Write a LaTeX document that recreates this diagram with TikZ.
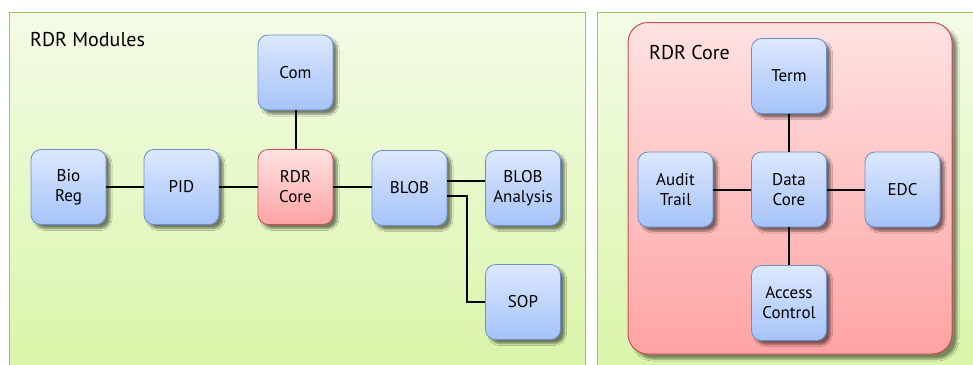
\documentclass[tikz,border=0pt]{standalone}
\usepackage{fontspec}
\setmainfont{PT Sans}
\usetikzlibrary{shadows.blur}
\definecolor{pgtop}{HTML}{F3FBE6}
\definecolor{pgbot}{HTML}{D8F4A4}
\definecolor{pgline}{HTML}{9CC35C}
\definecolor{btop}{HTML}{DCE8FE}
\definecolor{bbot}{HTML}{A6C3F8}
\definecolor{bline}{HTML}{6A8FCB}
\definecolor{rtop}{HTML}{FFE2E2}
\definecolor{rbot}{HTML}{FFA3A3}
\definecolor{rline}{HTML}{CC4F4F}
\tikzset{
  panel/.style={draw=pgline, line width=1pt, top color=pgtop, bottom color=pgbot},
  mod/.style={draw=bline, line width=0.8pt, rounded corners=10pt, top color=btop, bottom color=bbot,
    minimum width=75pt, minimum height=75pt, align=center, font=\fontsize{17}{20}\selectfont,
    blur shadow={shadow xshift=4pt, shadow yshift=-4pt, shadow blur steps=6, shadow blur extra rounding=1pt, shadow opacity=50}},
  redmod/.style={mod, draw=rline, top color=rtop, bottom color=rbot},
  link/.style={line width=2pt, black},
  ttl/.style={anchor=west, font=\fontsize{20}{24}\selectfont, inner sep=0pt}
}
\begin{document}
\begin{tikzpicture}[x=1pt,y=-1pt]
\useasboundingbox (0,0) rectangle (973,364);
\clip (0,0) rectangle (973,364);
% panels
\path[panel] (9,12.7) rectangle (585,400);
\path[panel] (597,12.7) rectangle (990,400);
\node[ttl] (t1) at (30,40) {RDR Modules};
% red core container
\path[draw=rline, line width=1pt, rounded corners=20pt, top color=rtop, bottom color=rbot,
  blur shadow={shadow xshift=5pt, shadow yshift=-5pt, shadow blur steps=6, shadow opacity=45}]
  (628,22.5) rectangle (952,354);
\node[ttl] (t2) at (649,52) {RDR Core};
% left nodes
\node[mod] (bio) at (68.5,187) {Bio\\Reg};
\node[mod] (pid) at (181.5,187) {PID};
\node[redmod] (core) at (295.5,187) {RDR\\Core};
\node[mod] (com) at (295.5,72.5) {Com};
\node[mod] (blob) at (409.5,188) {BLOB};
\node[mod] (blobA) at (523,188) {BLOB\\Analysis};
\node[mod] (sop) at (523,302) {SOP};
% right nodes
\node[mod] (term) at (789,76) {Term};
\node[mod] (data) at (789,189.5) {Data\\Core};
\node[mod] (audit) at (675.5,189.5) {Audit\\Trail};
\node[mod] (edc) at (902.5,189.5) {EDC};
\node[mod] (acc) at (789,303) {Access\\Control};
% links
\draw[link] (bio) -- (pid);
\draw[link] (pid) -- (core);
\draw[link] (core) -- (com);
\draw[link] (core.east) -- (core.east -| blob.west);
\draw[link] (blob.east |- 0,181) -- (blobA.west |- 0,181);
\coordinate (bend) at (467,196);
\draw[link] (blob.east |- bend) -- (bend) -- (bend |- sop.west) -- (sop.west);
\draw[link] (data) -- (term);
\draw[link] (data) -- (audit);
\draw[link] (data) -- (edc);
\draw[link] (data) -- (acc);
\end{tikzpicture}
\end{document}
